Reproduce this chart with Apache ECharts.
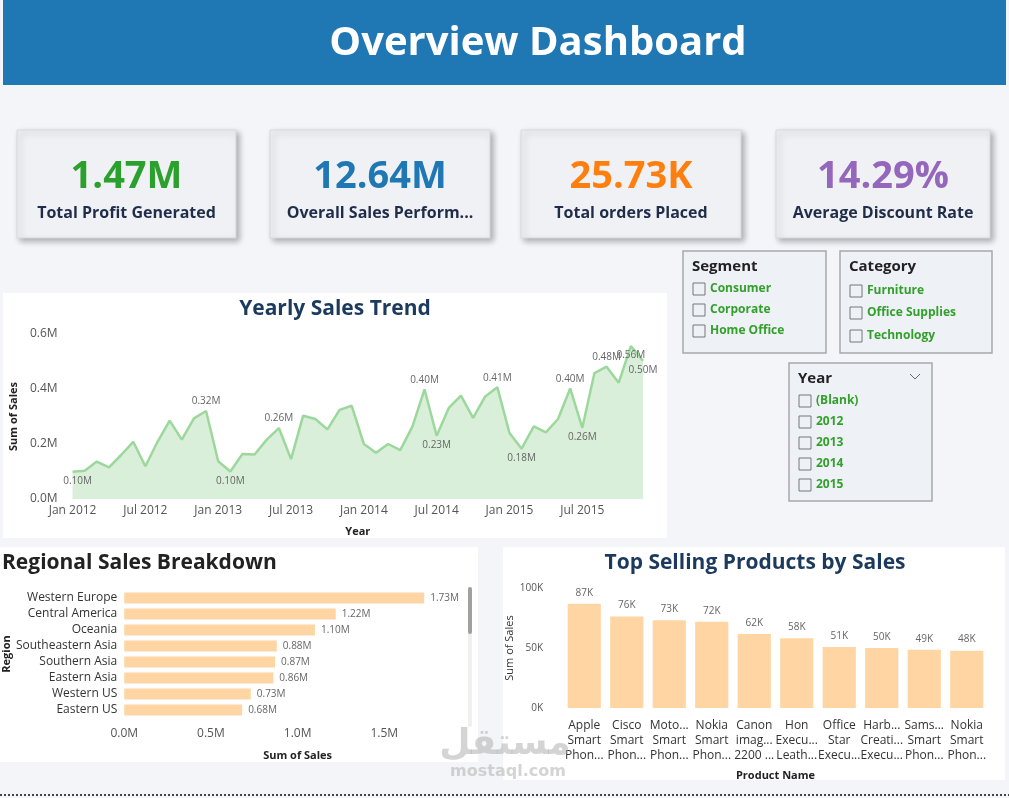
<!DOCTYPE html>
<html>
<head>
<meta charset="utf-8">
<script src="https://cdn.jsdelivr.net/npm/echarts@6/dist/echarts.min.js"></script>
<style>
  html, body { margin: 0; padding: 0; background: #f3f5f9; }
  #main { width: 1009px; height: 798px; }
</style>
</head>
<body>
<div id="main"></div>
<script>
// KPI cards
var kpiValues = ['1.47M', '12.64M', '25.73K', '14.29%'];
var kpiLabels = ['Total Profit Generated', 'Overall Sales Perform...', 'Total orders Placed', 'Average Discount Rate'];
var kpiColors = ['#2ca02c', '#1f77b4', '#ff7f0e', '#9467bd'];

// slicers
var segments = ['Consumer', 'Corporate', 'Home Office'];
var categories = ['Furniture', 'Office Supplies', 'Technology'];
var yearItems = ['(Blank)', '2012', '2013', '2014', '2015'];

// yearly sales trend (millions), Jan 2012 .. Dec 2015
var monthNames = ['Jan', 'Feb', 'Mar', 'Apr', 'May', 'Jun', 'Jul', 'Aug', 'Sep', 'Oct', 'Nov', 'Dec'];
var years = [2012, 2013, 2014, 2015];
var monthlySales = [
    0.099, 0.103, 0.136, 0.115, 0.160, 0.208, 0.119, 0.208, 0.285, 0.216, 0.293, 0.320,
    0.137, 0.100, 0.164, 0.162, 0.216, 0.258, 0.145, 0.303, 0.291, 0.253, 0.324, 0.339,
    0.200, 0.168, 0.200, 0.178, 0.263, 0.399, 0.230, 0.331, 0.376, 0.295, 0.373, 0.406,
    0.240, 0.183, 0.264, 0.242, 0.291, 0.402, 0.259, 0.458, 0.481, 0.423, 0.556, 0.503
];
var labelsAbove = [11, 17, 29, 35, 41, 44];
var labelsBelow = [0, 13, 30, 37, 42, 46, 47];

// regional sales (millions)
var regions = ['Western Europe', 'Central America', 'Oceania', 'Southeastern Asia', 'Southern Asia', 'Eastern Asia', 'Western US', 'Eastern US'];
var regionSales = [1.73, 1.22, 1.10, 0.88, 0.87, 0.86, 0.73, 0.68];

// top products (thousands)
var products = ['Apple\nSmart\nPhon...', 'Cisco\nSmart\nPhon...', 'Moto...\nSmart\nPhon...', 'Nokia\nSmart\nPhon...', 'Canon\nimag...\n2200 ...',
    'Hon\nExecu...\nLeath...', 'Office\nStar\nExecu...', 'Harb...\nCreati...\nExecu...', 'Sams...\nSmart\nPhon...', 'Nokia\nSmart\nPhon...'];
var productSales = [86.9, 76.3, 73.2, 71.8, 61.7, 58.1, 50.8, 50.0, 48.6, 47.8];

var FONT = '"Open Sans", "Noto Sans", sans-serif';

var months = [];
years.forEach(function (y) {
    monthNames.forEach(function (m) { months.push(m + ' ' + y); });
});

var lineData = monthlySales.map(function (v, i) {
    if (labelsAbove.indexOf(i) >= 0) return { value: v, label: { show: true, position: 'top' } };
    if (labelsBelow.indexOf(i) >= 0) return { value: v, label: { show: true, position: 'bottom', offset: i === 0 ? [5, 0] : [0, 0] } };
    return v;
});

// background graphics
var graphics = [];
graphics.push({ type: 'rect', shape: { x: 3, y: 0, width: 1003, height: 85 }, style: { fill: '#1f77b4' } });
graphics.push({ type: 'text', x: 538, y: 44, style: { text: 'Overview Dashboard', fill: '#fff', font: 'bold 40px ' + FONT, textAlign: 'center', textVerticalAlign: 'middle' } });

var cardX = [17, 270, 521, 776];
var cardW = [219, 220, 220, 214];
kpiValues.forEach(function (v, i) {
    graphics.push({ type: 'rect', shape: { x: cardX[i], y: 130, width: cardW[i], height: 108 },
        style: { fill: '#f0f1f4', stroke: '#d8d8d8', lineWidth: 1, shadowBlur: 6, shadowOffsetX: 3, shadowOffsetY: 3, shadowColor: 'rgba(0,0,0,0.3)' } });
    graphics.push({ type: 'text', x: cardX[i] + cardW[i] / 2, y: 177, style: { text: v, fill: kpiColors[i], font: 'bold 38px ' + FONT, textAlign: 'center', textVerticalAlign: 'middle' } });
    graphics.push({ type: 'text', x: cardX[i] + cardW[i] / 2, y: 213, style: { text: kpiLabels[i], fill: '#1f2d4a', font: 'bold 16px ' + FONT, textAlign: 'center', textVerticalAlign: 'middle' } });
});

function slicer(x, y, w, h, title, items, itemY, chevron) {
    graphics.push({ type: 'rect', shape: { x: x, y: y, width: w, height: h }, style: { fill: '#eef1f6', stroke: '#a8a8a8', lineWidth: 1.5 } });
    graphics.push({ type: 'text', x: x + 9, y: y + 16, style: { text: title, fill: '#222', font: 'bold 15px ' + FONT, textVerticalAlign: 'middle' } });
    if (chevron) {
        graphics.push({ type: 'polyline', shape: { points: [[x + w - 22, y + 11], [x + w - 17, y + 16], [x + w - 12, y + 11]] }, style: { stroke: '#666', lineWidth: 1, fill: null } });
    }
    items.forEach(function (t, i) {
        graphics.push({ type: 'rect', shape: { x: x + 10, y: itemY[i] - 6, width: 12, height: 12 }, style: { fill: 'none', stroke: '#777', lineWidth: 1 } });
        graphics.push({ type: 'text', x: x + 27, y: itemY[i], style: { text: t, fill: '#33a02c', font: 'bold 12px ' + FONT, textVerticalAlign: 'middle' } });
    });
}
slicer(683, 251, 143, 102, 'Segment', segments, [289, 310, 331]);
slicer(840, 251, 152, 102, 'Category', categories, [291, 313, 336]);
slicer(789, 363, 143, 138, 'Year', yearItems, [401, 422, 443, 464, 485], true);

// chart panels
graphics.push({ type: 'rect', shape: { x: 3, y: 293, width: 664, height: 245 }, style: { fill: '#fff' } });
graphics.push({ type: 'rect', shape: { x: 0, y: 547, width: 478, height: 215 }, style: { fill: '#fff' } });
graphics.push({ type: 'rect', shape: { x: 503, y: 547, width: 502, height: 233 }, style: { fill: '#fff' } });
graphics.push({ type: 'text', x: 335, y: 309, style: { text: 'Yearly Sales Trend', fill: '#1c3a5e', font: 'bold 21px ' + FONT, textAlign: 'center', textVerticalAlign: 'middle' } });
graphics.push({ type: 'text', x: 2, y: 563, style: { text: 'Regional Sales Breakdown', fill: '#222', font: 'bold 21px ' + FONT, textVerticalAlign: 'middle' } });
graphics.push({ type: 'text', x: 755, y: 563, style: { text: 'Top Selling Products by Sales', fill: '#1c3a5e', font: 'bold 21px ' + FONT, textAlign: 'center', textVerticalAlign: 'middle' } });
// scrollbar of region list
graphics.push({ type: 'rect', shape: { x: 468, y: 587, width: 4, height: 140, r: 2 }, style: { fill: '#f0f0f0' } });
graphics.push({ type: 'rect', shape: { x: 468, y: 587, width: 4, height: 47, r: 2 }, style: { fill: '#a0a0a0' } });
// watermark
graphics.push({ type: 'text', x: 505, y: 745, z: 100, style: { text: 'مستقل', fill: 'rgba(170,170,170,0.5)', font: 'bold 36px "DejaVu Sans", sans-serif', textAlign: 'center', textVerticalAlign: 'middle' } });
graphics.push({ type: 'text', x: 508, y: 772, z: 100, style: { text: 'mostaql.com', fill: 'rgba(170,170,170,0.5)', font: 'bold 16px "DejaVu Sans", sans-serif', textAlign: 'center', textVerticalAlign: 'middle' } });
// bottom dotted line
graphics.push({ type: 'line', shape: { x1: 0, y1: 795, x2: 1009, y2: 795 }, style: { stroke: '#444', lineWidth: 2, lineDash: [2, 2] } });

var axisNameStyle = { color: '#222', fontWeight: 'bold', fontSize: 11, fontFamily: FONT };

var option = {
    animation: false,
    textStyle: { fontFamily: FONT },
    graphic: { elements: graphics },
    grid: [
        { left: 66, top: 334, width: 577, height: 165 },
        { left: 123, top: 590, width: 348, height: 128 },
        { left: 563, top: 588, width: 425, height: 120 }
    ],
    xAxis: [
        {
            gridIndex: 0, type: 'category', data: months, boundaryGap: false,
            axisLine: { show: false }, axisTick: { show: false },
            axisLabel: { interval: 5, color: '#555', fontSize: 12, margin: 6 },
            name: 'Year', nameLocation: 'middle', nameGap: 27, nameTextStyle: axisNameStyle
        },
        {
            gridIndex: 1, type: 'value', min: 0, max: 2, interval: 0.5,
            splitLine: { show: false }, axisLine: { show: false },
            axisLabel: { color: '#555', fontSize: 12, margin: 10, showMaxLabel: false, formatter: function (v) { return v.toFixed(1) + 'M'; } },
            name: 'Sum of Sales', nameLocation: 'middle', nameGap: 32, nameTextStyle: axisNameStyle
        },
        {
            gridIndex: 2, type: 'category', data: products,
            axisLine: { show: false }, axisTick: { show: false },
            axisLabel: { interval: 0, color: '#333', fontSize: 12, lineHeight: 15, margin: 10 },
            name: 'Product Name', nameLocation: 'middle', nameGap: 62, nameTextStyle: axisNameStyle
        }
    ],
    yAxis: [
        {
            gridIndex: 0, type: 'value', min: 0, max: 0.6, interval: 0.2,
            splitLine: { show: false },
            axisLabel: { color: '#555', fontSize: 12, margin: 15, formatter: function (v) { return v.toFixed(1) + 'M'; } },
            name: 'Sum of Sales', nameLocation: 'middle', nameGap: 50, nameTextStyle: axisNameStyle
        },
        {
            gridIndex: 1, type: 'category', data: regions, inverse: true,
            axisLine: { show: false }, axisTick: { show: false },
            axisLabel: { color: '#333', fontSize: 12, margin: 7 },
            name: 'Region', nameLocation: 'middle', nameGap: 112, nameTextStyle: axisNameStyle
        },
        {
            gridIndex: 2, type: 'value', min: 0, max: 100, interval: 50,
            splitLine: { show: false },
            axisLabel: { color: '#555', fontSize: 10, margin: 20, formatter: function (v) { return v + 'K'; } },
            name: 'Sum of Sales', nameLocation: 'middle', nameGap: 42,
            nameTextStyle: { color: '#333', fontSize: 11, fontFamily: FONT }
        }
    ],
    series: [
        {
            type: 'line', xAxisIndex: 0, yAxisIndex: 0, data: lineData,
            symbol: 'circle', symbolSize: 1, showSymbol: true, itemStyle: { color: 'rgba(0,0,0,0)' },
            lineStyle: { color: '#9cd89c', width: 2.5 },
            areaStyle: { color: '#daefda', opacity: 1 },
            label: { show: false, color: '#666', fontSize: 10, distance: 4, formatter: function (p) { return p.value.toFixed(2) + 'M'; } }
        },
        {
            type: 'bar', xAxisIndex: 1, yAxisIndex: 1, data: regionSales,
            barCategoryGap: '30%', itemStyle: { color: '#ffd6a3' },
            label: { show: true, position: 'right', distance: 6, color: '#666', fontSize: 10, formatter: function (p) { return p.value.toFixed(2) + 'M'; } }
        },
        {
            type: 'bar', xAxisIndex: 2, yAxisIndex: 2, data: productSales,
            barCategoryGap: '22%', itemStyle: { color: '#ffd6a3' },
            label: { show: true, position: 'top', distance: 6, color: '#666', fontSize: 10, formatter: function (p) { return Math.round(p.value) + 'K'; } }
        }
    ]
};

var chart = echarts.init(document.getElementById('main'));
chart.setOption(option);
</script>
</body>
</html>
